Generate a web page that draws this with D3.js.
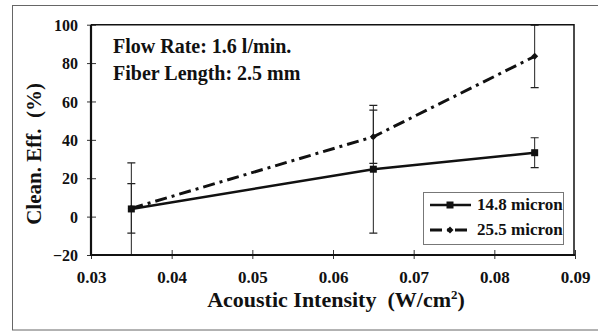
<!DOCTYPE html>
<html><head><meta charset="utf-8">
<script src="https://cdn.jsdelivr.net/npm/d3@7"></script>
<style>body{margin:0;background:#fff}svg{display:block}</style>
</head><body>
<script>
const intensity = [0.035, 0.065, 0.085];
const series = ["14.8 micron", "25.5 micron"];
const eff148 = [4, 24.7, 33.3];
const err148 = [24, 33.3, 7.8];
const eff255 = [4.3, 41.6, 83.5];
const err255 = [12.9, 13.9, 16.3];
const xTicks = [0.03, 0.04, 0.05, 0.06, 0.07, 0.08, 0.09];
const yTicks = [-20, 0, 20, 40, 60, 80, 100];
const notes = ["Flow Rate: 1.6 l/min.", "Fiber Length: 2.5 mm"];

const W = 598, H = 331;
const svg = d3.select("body").append("svg").attr("width", W).attr("height", H);
const x = d3.scaleLinear().domain([0.03, 0.09]).range([91, 575]);
const y = d3.scaleLinear().domain([-20, 100]).range([255, 24.7]);

svg.append("rect").attr("x", 12.5).attr("y", 5.5).attr("width", 620).attr("height", 324.5)
  .attr("fill", "none").attr("stroke", "#666").attr("stroke-width", 1);

svg.append("defs").append("clipPath").attr("id", "clip").append("rect")
  .attr("x", x(0.03)).attr("y", y(100)).attr("width", 574 - x(0.03)).attr("height", y(-20) - y(100));

const data = [
  {name: series[0], vals: eff148, errs: err148, dash: null, marker: "square"},
  {name: series[1], vals: eff255, errs: err255, dash: "12,5,3,5", marker: "diamond"}
];

const g = svg.append("g").attr("clip-path", "url(#clip)");
data.forEach(s => {
  intensity.forEach((xv, i) => {
    const lo = s.vals[i] - s.errs[i], hi = s.vals[i] + s.errs[i];
    const px = x(xv);
    g.append("line").attr("x1", px).attr("x2", px).attr("y1", y(lo)).attr("y2", y(hi))
      .attr("stroke", "#222").attr("stroke-width", 1);
    [lo, hi].forEach(v => g.append("line").attr("x1", px - 4).attr("x2", px + 4)
      .attr("y1", y(v)).attr("y2", y(v)).attr("stroke", "#222").attr("stroke-width", 1.2));
  });
});
const line = d3.line().x((d, i) => x(intensity[i])).y(d => y(d));
data.forEach(s => {
  g.append("path").attr("d", line(s.vals)).attr("fill", "none").attr("stroke", "#111")
    .attr("stroke-width", s.dash ? 3 : 2.5).attr("stroke-dasharray", s.dash);
});
function marker(sel, type, cx, cy) {
  if (type === "square") sel.append("rect").attr("x", cx - 3.5).attr("y", cy - 3.5).attr("width", 7).attr("height", 7).attr("fill", "#111");
  else sel.append("path").attr("d", `M${cx},${cy-3.5}L${cx+3.5},${cy}L${cx},${cy+3.5}L${cx-3.5},${cy}Z`).attr("fill", "#111");
}
data.forEach(s => s.vals.forEach((v, i) => marker(g, s.marker, x(intensity[i]), y(v))));

function styleText(sel, size) {
  return sel.attr("font-family", "Liberation Serif").attr("font-weight", "bold").attr("font-size", size).attr("fill", "#111");
}

const xAxis = svg.append("g").attr("transform", `translate(0,${y(-20)})`)
  .call(d3.axisBottom(x).tickValues(xTicks).tickSize(0).tickFormat(d3.format(".2f")));
xAxis.attr("font-family", "Liberation Serif").attr("font-size", 16);
xAxis.select(".domain").remove();
styleText(xAxis.selectAll(".tick text").attr("dy", 0).attr("y", 28), 17);
xAxis.selectAll(".tick").append("line").attr("y1", -5).attr("y2", 4).attr("stroke", "#333").attr("stroke-width", 1);

const yAxis = svg.append("g").attr("transform", `translate(${x(0.03)},0)`)
  .call(d3.axisLeft(y).tickValues(yTicks).tickSize(0).tickFormat(d3.format("d")));
yAxis.attr("font-family", "Liberation Serif").attr("font-size", 16);
yAxis.select(".domain").remove();
styleText(yAxis.selectAll(".tick text").attr("x", -13).attr("dy", "0.35em"), 16);
yAxis.selectAll(".tick").append("line").attr("x1", -4).attr("x2", 5).attr("stroke", "#333").attr("stroke-width", 1);

svg.append("path").attr("d", `M${x(0.03)},${y(100)}H574V${y(-20)}`).attr("fill", "none").attr("stroke", "#111").attr("stroke-width", 1.5);
svg.append("path").attr("d", `M${x(0.03)},${y(100)}V${y(-20)}H575`).attr("fill", "none").attr("stroke", "#111").attr("stroke-width", 2.2);

notes.forEach((t, i) => styleText(svg.append("text").attr("x", 113).attr("y", 53 + i * 27), 20).text(t));

const xt = styleText(svg.append("text").attr("x", 336).attr("y", 307).attr("text-anchor", "middle"), 22)
  .attr("xml:space", "preserve");
xt.append("tspan").text("Acoustic Intensity  (W/cm");
xt.append("tspan").attr("dy", -8).attr("font-size", 13).text("2");
xt.append("tspan").attr("dy", 8).text(")");
styleText(svg.append("text").attr("transform", "translate(41,154) rotate(-90)").attr("text-anchor", "middle"), 21)
  .attr("xml:space", "preserve").text("Clean. Eff.  (%)");

const lg = svg.append("g");
lg.append("rect").attr("x", 423.5).attr("y", 192.5).attr("width", 140).attr("height", 52)
  .attr("fill", "#fff").attr("stroke", "#777").attr("stroke-width", 1);
data.forEach((s, i) => {
  const yy = 205 + i * 25;
  lg.append("line").attr("x1", 430).attr("x2", 471).attr("y1", yy).attr("y2", yy)
    .attr("stroke", "#111").attr("stroke-width", s.dash ? 3 : 2.5).attr("stroke-dasharray", s.dash);
  marker(lg, s.marker, 450, yy);
  styleText(lg.append("text").attr("x", 477).attr("y", yy + 5), 17).text(s.name);
});
</script>
</body></html>
